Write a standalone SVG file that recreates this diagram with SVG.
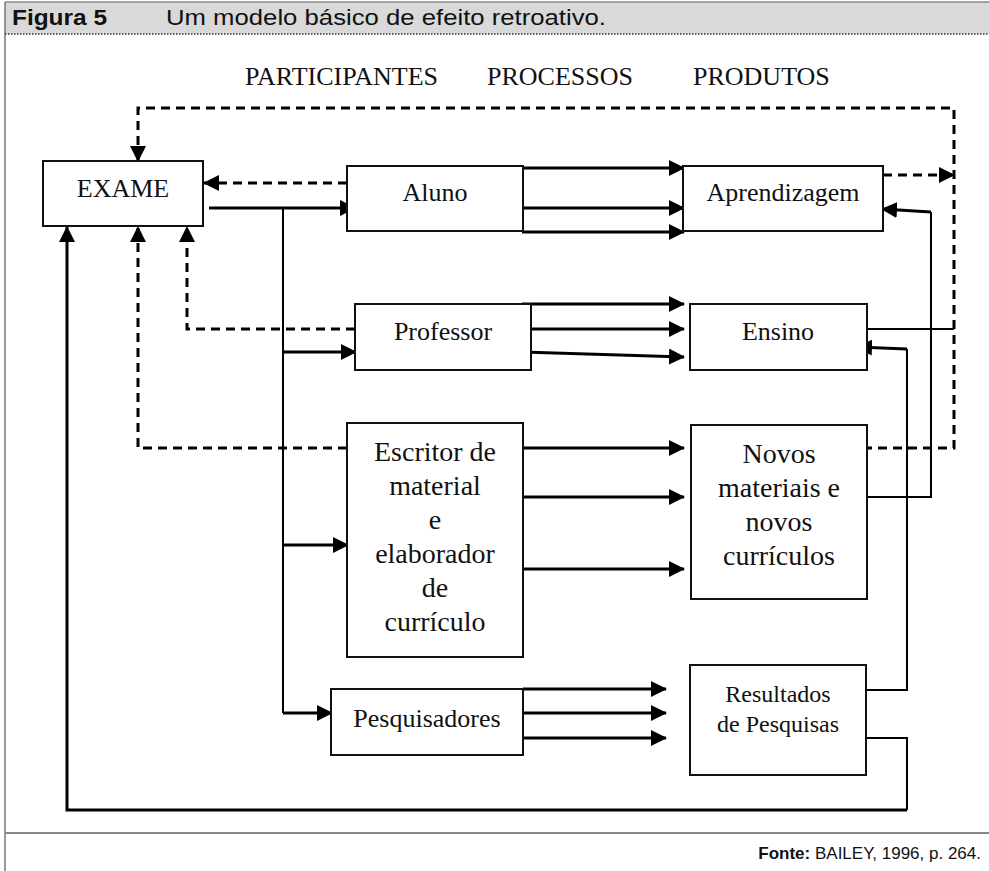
<svg xmlns="http://www.w3.org/2000/svg" width="989" height="871" viewBox="0 0 989 871">
  <defs>
    <style>
      .box { fill: #fff; stroke: #111; stroke-width: 2; }
      .lbl { font-family: "Liberation Serif", "Times New Roman", serif; font-size: 26px; text-anchor: middle; fill: #111; }
      .big { font-size: 28px; }
      .mid { font-size: 24px; }
      .head { font-family: "Liberation Serif", "Times New Roman", serif; font-size: 26px; fill: #111; }
      .sans { font-family: "Liberation Sans", Arial, sans-serif; fill: #111; }
      .thick { fill: none; stroke: #000; stroke-width: 3; }
      .thin { fill: none; stroke: #000; stroke-width: 2; }
      .dash { fill: none; stroke: #000; stroke-width: 3; stroke-dasharray: 9 6; }
    </style>
    <marker id="arrow" markerUnits="userSpaceOnUse" markerWidth="16" markerHeight="16" refX="15" refY="8" orient="auto">
      <path d="M0,0 L16,8 L0,16 Z" fill="#000"/>
    </marker>
  </defs>

  <!-- frame -->
  <rect x="5" y="2" width="990" height="32" fill="#d9d9d9"/>
  <line x1="5" y1="2" x2="989" y2="2" stroke="#888" stroke-width="1.5"/>
  <line x1="5" y1="2" x2="5" y2="871" stroke="#777" stroke-width="1.5"/>
  <line x1="5" y1="34" x2="989" y2="34" stroke="#333" stroke-width="1.5" stroke-dasharray="1.5 1.5"/>
  <line x1="5" y1="833" x2="989" y2="833" stroke="#888" stroke-width="2"/>

  <text class="sans" x="12" y="25" font-size="22" font-weight="bold" textLength="95" lengthAdjust="spacingAndGlyphs">Figura 5</text>
  <text class="sans" x="166" y="25" font-size="22" textLength="440" lengthAdjust="spacingAndGlyphs">Um modelo básico de efeito retroativo.</text>
  <text class="sans" x="981" y="859" font-size="17" text-anchor="end"><tspan font-weight="bold">Fonte:</tspan> BAILEY, 1996, p. 264.</text>

  <!-- column headings -->
  <text class="head" x="245" y="85">PARTICIPANTES</text>
  <text class="head" x="487" y="85">PROCESSOS</text>
  <text class="head" x="693" y="85">PRODUTOS</text>

  <!-- connectors -->
  <g id="connectors">
    <!-- feedback (dashed) -->
    <path class="dash" d="M863,448 H954 V108 H138 V161" marker-end="url(#arrow)"/>
    <path class="dash" d="M883,175 H954" marker-end="url(#arrow)"/>
    <path class="dash" d="M347,183 H204" marker-end="url(#arrow)"/>
    <path class="dash" d="M355,329 H187 V227" marker-end="url(#arrow)"/>
    <path class="dash" d="M347,448 H138 V227" marker-end="url(#arrow)"/>

    <!-- exam to participants -->
    <path class="thick" d="M209,208 H355" marker-end="url(#arrow)"/>
    <path class="thin" d="M283,208 V713"/>
    <path class="thick" d="M283,352 H356" marker-end="url(#arrow)"/>
    <path class="thick" d="M283,545 H348" marker-end="url(#arrow)"/>
    <path class="thick" d="M283,713 H332" marker-end="url(#arrow)"/>

    <!-- processes -->
    <path class="thick" d="M523,168 H684" marker-end="url(#arrow)"/>
    <path class="thick" d="M522,208 H684" marker-end="url(#arrow)"/>
    <path class="thick" d="M522,232 H684" marker-end="url(#arrow)"/>
    <path class="thick" d="M522,304 H684" marker-end="url(#arrow)"/>
    <path class="thick" d="M522,329 H684" marker-end="url(#arrow)"/>
    <path class="thick" d="M522,352 L684,357" marker-end="url(#arrow)"/>
    <path class="thick" d="M522,448 H684" marker-end="url(#arrow)"/>
    <path class="thick" d="M522,497 H684" marker-end="url(#arrow)"/>
    <path class="thick" d="M522,569 H684" marker-end="url(#arrow)"/>
    <path class="thick" d="M523,689 H666" marker-end="url(#arrow)"/>
    <path class="thick" d="M523,713 H666" marker-end="url(#arrow)"/>
    <path class="thick" d="M523,738 H666" marker-end="url(#arrow)"/>

    <!-- product links -->
    <path class="thin" d="M858,329 H954"/>
    <path class="thin" d="M858,497 H931 V212"/>
    <path class="thick" d="M931,212 L882,209" marker-end="url(#arrow)"/>
    <path class="thin" d="M860,690 H907 V349"/>
    <path class="thick" d="M907,349 L857,347" marker-end="url(#arrow)"/>
    <path class="thin" d="M860,738 H907 V810"/>
    <path class="thick" d="M907,810 H67 V227" marker-end="url(#arrow)"/>
  </g>

  <!-- nodes -->
  <g id="exame">
    <rect class="box" x="43" y="161" width="160" height="65"/>
    <text class="lbl" x="123" y="197">EXAME</text>
  </g>
  <g id="aluno">
    <rect class="box" x="347" y="166" width="176" height="65"/>
    <text class="lbl" x="435" y="201">Aluno</text>
  </g>
  <g id="professor">
    <rect class="box" x="355" y="304" width="176" height="66"/>
    <text class="lbl" x="443" y="340">Professor</text>
  </g>
  <g id="escritor">
    <rect class="box" x="347" y="423" width="176" height="234"/>
    <text class="lbl big" x="435" y="461">Escritor de</text>
    <text class="lbl big" x="435" y="495">material</text>
    <text class="lbl big" x="435" y="529">e</text>
    <text class="lbl big" x="435" y="563">elaborador</text>
    <text class="lbl big" x="435" y="597">de</text>
    <text class="lbl big" x="435" y="631">currículo</text>
  </g>
  <g id="pesquisadores">
    <rect class="box" x="331" y="689" width="192" height="66"/>
    <text class="lbl" x="427" y="727">Pesquisadores</text>
  </g>
  <g id="aprendizagem">
    <rect class="box" x="683" y="166" width="200" height="65"/>
    <text class="lbl" x="783" y="201">Aprendizagem</text>
  </g>
  <g id="ensino">
    <rect class="box" x="690" y="304" width="177" height="66"/>
    <text class="lbl" x="778" y="340">Ensino</text>
  </g>
  <g id="novos">
    <rect class="box" x="691" y="425" width="176" height="174"/>
    <text class="lbl big" x="779" y="463">Novos</text>
    <text class="lbl big" x="779" y="497">materiais e</text>
    <text class="lbl big" x="779" y="531">novos</text>
    <text class="lbl big" x="779" y="565">currículos</text>
  </g>
  <g id="resultados">
    <rect class="box" x="690" y="665" width="176" height="110"/>
    <text class="lbl mid" x="778" y="702">Resultados</text>
    <text class="lbl mid" x="778" y="732">de Pesquisas</text>
  </g>
</svg>
